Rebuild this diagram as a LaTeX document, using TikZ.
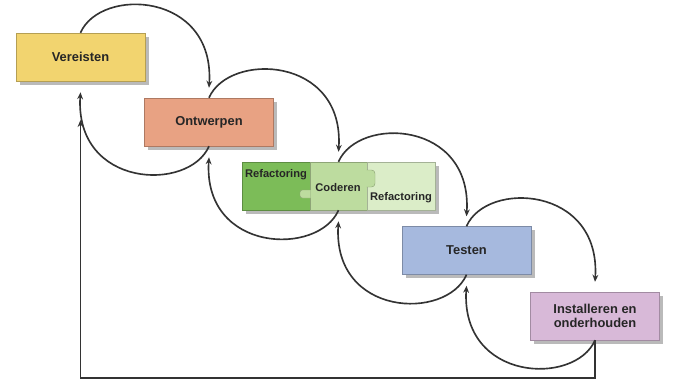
\documentclass[tikz,border=0pt]{standalone}
\usepackage{fontspec}
\setmainfont{Liberation Sans}
\usetikzlibrary{arrows.meta,shadows}
\definecolor{geel}{HTML}{F2D46F}
\definecolor{zalm}{HTML}{E8A283}
\definecolor{donkergroen}{HTML}{7CBC58}
\definecolor{midgroen}{HTML}{BDDC9F}
\definecolor{lichtgroen}{HTML}{DBEDC8}
\definecolor{blauw}{HTML}{A6B9DE}
\definecolor{paars}{HTML}{D8B9D8}
\begin{document}
\begin{tikzpicture}[x=.03cm,y=.03cm,every node/.style={font=\bfseries\fontsize{11}{12.5}\selectfont,text=black!85},
	fase/.style={minimum width=3.87cm,minimum height=1.44cm,inner sep=0pt,draw=#1!75!black,fill=#1,thin,drop shadow={shadow xshift=3pt,shadow yshift=-3pt,fill=black!45,opacity=.6}},
	stuk/.style={minimum height=1.44cm,inner sep=0pt,draw=#1!75!black,fill=#1,thin,drop shadow={shadow xshift=3pt,shadow yshift=-3pt,fill=black!45,opacity=.6}},
	klein/.style={font=\bfseries\fontsize{9.5}{11}\selectfont},
	pijl/.style={line width=1.4pt,black!80,-{Stealth[length=6pt,width=5pt]}}]
		\useasboundingbox(0,0)rectangle(675,382);
		\coordinate(V)at(80.5,325);
		\coordinate(O)at(209,260);
		\coordinate(C)at(338.5,196);
		\coordinate(T)at(466.5,131.5);
		\coordinate(I)at(595,66);
		\coordinate(B)at(0,4);
		\coordinate(F)at(80.5,262);
		\node[fase=geel](ver)at(V){Vereisten};
		\node[fase=zalm](ont)at(O){Ontwerpen};
		\node[stuk=donkergroen,minimum width=2.04cm](cod1)at(276,196){};
		\node[stuk=midgroen,minimum width=1.71cm](cod)at(C){};
		\node[stuk=lichtgroen,minimum width=2.04cm](cod2)at(401,196){};
		\filldraw[fill=midgroen,draw=midgroen!75!black,thin,rounded corners=2pt](310.5,184)--(300,184)--(300,192)--(310.5,192);
		\filldraw[fill=midgroen,draw=midgroen!75!black,thin,rounded corners=3pt](366.5,195)--(375,195)--(375,212)--(366.5,212);
		\node[klein](ref1)at(276,207){Refactoring};
		\node[klein](codt)at(338,194){Coderen};
		\node[klein](ref2)at(401,184){Refactoring};
		\node[fase=blauw](tes)at(T){Testen};
		\node[fase=paars,align=center](ins)at(I){Installeren en\\onderhouden};
		\foreach\a/\b in{ver/ont,ont/cod,cod/tes,tes/ins}{
			\draw[pijl](\a.north)..controls+(20,46)and+(6,96)..([yshift=.3cm]\b.north);
			\draw[pijl](\b.south)..controls+(-20,-46)and+(-6,-96)..([yshift=-.33cm]\a.south);
		}
		\draw[pijl](ins.south)--(ins.south|-B)--(B-|ver.south)--(F);
		\end{tikzpicture}
\end{document}
